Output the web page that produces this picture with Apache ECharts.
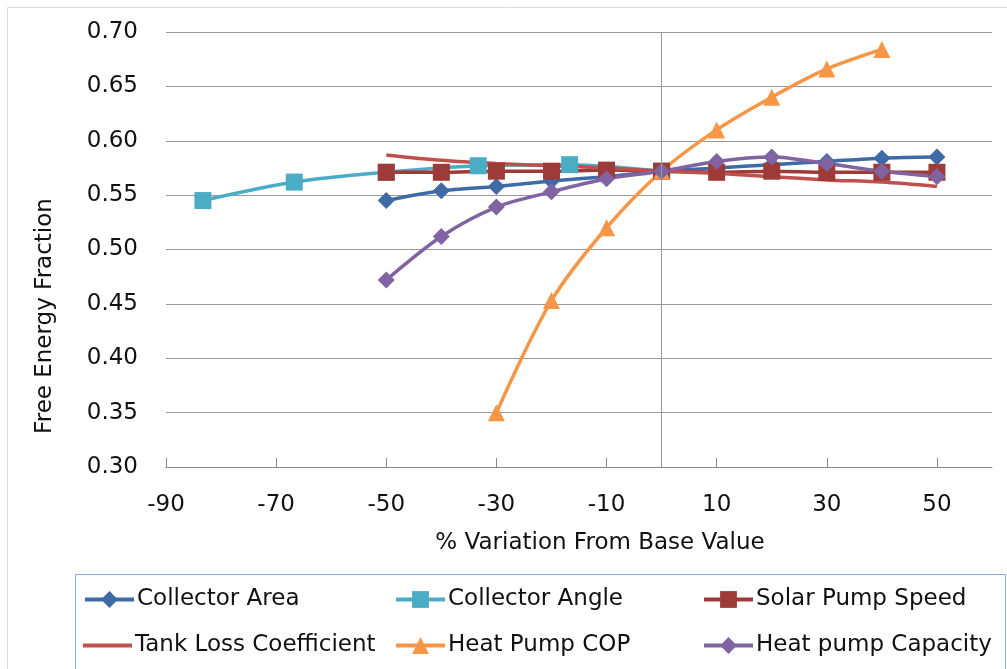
<!DOCTYPE html>
<html>
<head>
<meta charset="utf-8">
<script src="https://cdn.jsdelivr.net/npm/echarts@6/dist/echarts.min.js"></script>
<style>
html,body{margin:0;padding:0;background:#fff;}
#chart{width:1007px;height:669px;}
</style>
</head>
<body>
<div id="chart"></div>
<script>
// ---- data ----
var xSteps = [-50, -40, -30, -20, -10, 0, 10, 20, 30, 40, 50];
var angleSteps = [-83.3, -66.7, -50, -33.3, -16.7, 0];
var copSteps = [-30, -20, -10, 0, 10, 20, 30, 40];

var collectorArea = [0.545, 0.554, 0.558, 0.563, 0.567, 0.572, 0.575, 0.578, 0.581, 0.584, 0.585];
var collectorAngle = [0.545, 0.562, 0.571, 0.577, 0.578, 0.572];
var solarPumpSpeed = [0.571, 0.571, 0.572, 0.572, 0.573, 0.572, 0.571, 0.572, 0.571, 0.571, 0.571];
var tankLoss = [0.587, 0.582, 0.579, 0.577, 0.575, 0.572, 0.570, 0.567, 0.564, 0.562, 0.558];
var heatPumpCOP = [0.350, 0.453, 0.520, 0.572, 0.610, 0.640, 0.666, 0.684];
var heatPumpCapacity = [0.472, 0.512, 0.539, 0.553, 0.565, 0.572, 0.581, 0.585, 0.579, 0.572, 0.567];

var xTickLabels = [-90, -70, -50, -30, -10, 10, 30, 50];
var seriesNames = ['Collector Area', 'Collector Angle', 'Solar Pump Speed',
                   'Tank Loss Coefficient', 'Heat Pump COP', 'Heat pump Capacity'];

function pairs(xs, ys) { return xs.map(function (x, i) { return [x, ys[i]]; }); }

var FONT = 'DejaVu Sans';
var chart = echarts.init(document.getElementById('chart'), null, {renderer: 'canvas'});

function mkSeries(name, xs, ys, color, symbol, size) {
  return {
    name: name, type: 'line', smooth: 0.3,
    data: pairs(xs, ys),
    symbol: symbol, symbolSize: size, showSymbol: symbol !== 'none',
    lineStyle: {color: color, width: 3.5},
    itemStyle: {color: color},
    emphasis: {disabled: true},
    animation: false
  };
}

var series = [
  mkSeries(seriesNames[0], xSteps, collectorArea, '#3E6AA6', 'diamond', 17),
  mkSeries(seriesNames[1], angleSteps, collectorAngle, '#4BACC6', 'rect', 17),
  mkSeries(seriesNames[2], xSteps, solarPumpSpeed, '#9E3B38', 'rect', 17),
  mkSeries(seriesNames[3], xSteps, tankLoss, '#C0504D', 'none', 0),
  mkSeries(seriesNames[4], copSteps, heatPumpCOP, '#F79646', 'triangle', 17),
  mkSeries(seriesNames[5], xSteps, heatPumpCapacity, '#8064A2', 'diamond', 17)
];
series[0].markLine = {
  silent: true, symbol: 'none', label: {show: false},
  lineStyle: {color: '#999', width: 1, type: 'solid'},
  data: [{xAxis: 0}], animation: false
};

var legendPos = [[83, 588], [394, 588], [702, 588], [83, 634], [394, 634], [702, 634]];
var legends = seriesNames.map(function (n, i) {
  var item = {name: n};
  if (i === 3) { item.icon = 'path://M0,0 L49,0 L49,4 L0,4 Z'; }
  return {
    data: [item], left: legendPos[i][0], top: legendPos[i][1],
    padding: 0, itemWidth: 49, itemHeight: 21, itemGap: 0,
    lineStyle: {width: 4},
    textStyle: {fontFamily: FONT, fontSize: 23, color: '#111', padding: [0, 0, 0, -2]},
    selectedMode: false
  };
});

chart.setOption({
  animation: false,
  backgroundColor: '#fff',
  grid: {left: 166, right: 15, top: 32, bottom: 202, containLabel: false},
  legend: legends,
  xAxis: {
    type: 'value', min: -90, max: 60, interval: 10,
    axisLine: {show: true, lineStyle: {color: '#888', width: 1}},
    axisTick: {show: true, inside: true, length: 9, customValues: xTickLabels, lineStyle: {color: '#888'}},
    axisLabel: {customValues: xTickLabels, margin: 27, fontFamily: FONT, fontSize: 23, color: '#111'},
    splitLine: {show: false}
  },
  yAxis: {
    type: 'value', min: 0.30, max: 0.70, interval: 0.05,
    axisLine: {show: false}, axisTick: {show: false},
    axisLabel: {margin: 28, fontFamily: FONT, fontSize: 23, color: '#111',
      formatter: function (v) { return v.toFixed(2); }},
    splitLine: {show: true, lineStyle: {color: '#999', width: 1}}
  },
  graphic: [
    {type: 'polyline', shape: {points: [[7.5, 669], [7.5, 7.5], [1007, 7.5]]},
     style: {stroke: '#d9d9d9', lineWidth: 1, fill: null}, silent: true},
    {type: 'rect', shape: {x: 75.5, y: 574.5, width: 930, height: 120},
     style: {stroke: '#8FAADC', lineWidth: 1, fill: null}, silent: true, z: -1},
    {type: 'text', x: 600, y: 543,
     style: {text: '% Variation From Base Value', align: 'center', verticalAlign: 'middle',
             font: '23px "DejaVu Sans"', fill: '#111'}},
    {type: 'text', rotation: Math.PI / 2, x: 45, y: 316,
     style: {text: 'Free Energy Fraction', align: 'center', verticalAlign: 'middle',
             font: '23px "DejaVu Sans"', fill: '#111'}}
  ],
  series: series
});
</script>
</body>
</html>
